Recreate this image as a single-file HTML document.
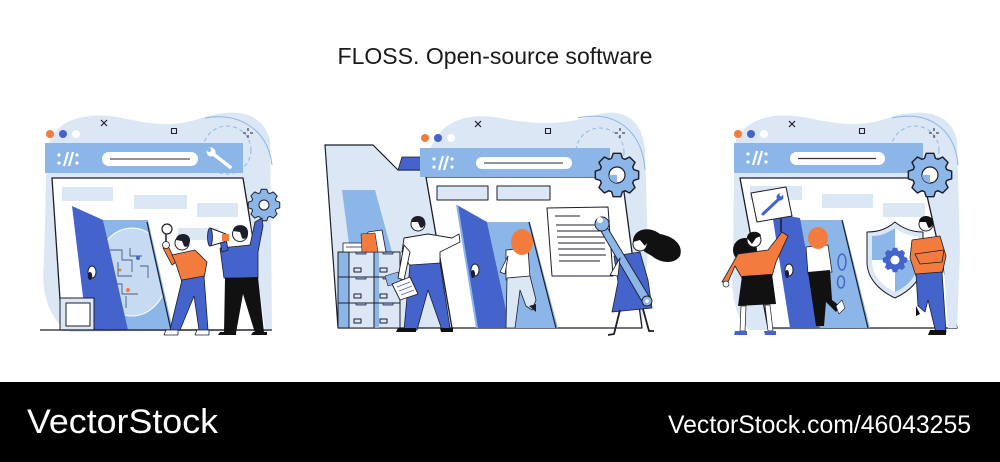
<!DOCTYPE html>
<html><head><meta charset="utf-8"><style>
html,body{margin:0;padding:0;background:#fff;width:1000px;height:462px;overflow:hidden}
svg{display:block}
</style></head><body>
<svg width="1000" height="462" viewBox="0 0 1000 462" xmlns="http://www.w3.org/2000/svg">
<defs>
<path id="gear" d="M15.22,-4.94 L19.70,-3.47 L19.70,3.47 L15.22,4.94 L14.26,7.26 L16.38,11.47 L11.47,16.38 L7.26,14.26 L4.94,15.22 L3.47,19.70 L-3.47,19.70 L-4.94,15.22 L-7.26,14.26 L-11.47,16.38 L-16.38,11.47 L-14.26,7.26 L-15.22,4.94 L-19.70,3.47 L-19.70,-3.47 L-15.22,-4.94 L-14.26,-7.26 L-16.38,-11.47 L-11.47,-16.38 L-7.26,-14.26 L-4.94,-15.22 L-3.47,-19.70 L3.47,-19.70 L4.94,-15.22 L7.26,-14.26 L11.47,-16.38 L16.38,-11.47 L14.26,-7.26 Z"/>
<g id="slashes">
<circle cx="0" cy="-4" r="1.6" fill="#fff"/><circle cx="0" cy="4" r="1.6" fill="#fff"/>
<line x1="5" y1="7" x2="9" y2="-7" stroke="#fff" stroke-width="2.2"/>
<line x1="10" y1="7" x2="14" y2="-7" stroke="#fff" stroke-width="2.2"/>
<circle cx="18" cy="-4" r="1.6" fill="#fff"/><circle cx="18" cy="4" r="1.6" fill="#fff"/>
</g>
</defs>

<rect width="1000" height="462" fill="#fff"/>

<text x="495" y="64" text-anchor="middle" font-family="Liberation Sans, Arial, sans-serif" font-size="23" fill="#1a1a1a" textLength="315" lengthAdjust="spacingAndGlyphs">FLOSS. Open-source software</text>

<!-- ============ PANEL 1 ============ -->
<g stroke-linejoin="round">
<path d="M50,140 C62,116 92,112 122,118 C152,124 172,128 202,118 C232,108 262,110 270,140 L272,330 L70,332 C50,322 40,292 44,262 L46,178 Z" fill="#dce7f5"/>
<circle cx="227" cy="150" r="24" fill="none" stroke="#8cb6e8" stroke-width="1" stroke-dasharray="4,3"/>
<path d="M205,118 C240,112 268,130 272,165" fill="none" stroke="#8cb6e8" stroke-width="1"/>
<circle cx="50" cy="134" r="4" fill="#f47b3e"/>
<circle cx="63" cy="134" r="4" fill="#4564cb"/>
<circle cx="76" cy="134" r="4" fill="#fff"/>
<path d="M101,120 L107,126 M107,120 L101,126" stroke="#1d1d2b" stroke-width="1.2"/>
<rect x="171.5" y="128.5" width="5" height="5" fill="none" stroke="#1d1d2b" stroke-width="1.1"/>
<path d="M248,128 V131 M248,135 V138 M243,133 H246 M250,133 H253" stroke="#1d1d2b" stroke-width="1"/>

<polygon points="52,178 243,178 268,330 62,330" fill="#fff" stroke="#1d1d2b" stroke-width="1.3"/>
<rect x="45" y="143" width="198" height="30" fill="#8cb6e8"/>
<use href="#slashes" transform="translate(59,159)"/>
<rect x="102" y="152" width="96" height="14" rx="7" fill="#fff"/>
<line x1="110" y1="159" x2="190" y2="159" stroke="#555" stroke-width="1.2"/>
<g stroke="#fff" stroke-width="3.5" stroke-linecap="round"><line x1="212" y1="153" x2="230" y2="167"/></g>
<circle cx="211" cy="152" r="4.5" fill="#fff"/><circle cx="209" cy="150" r="2" fill="#8cb6e8"/>

<rect x="62" y="187" width="51" height="14" fill="#dce7f5"/>
<rect x="134" y="195" width="53" height="14" fill="#dce7f5"/>
<rect x="197" y="203" width="41" height="14" fill="#dce7f5"/>
<rect x="178" y="228" width="40" height="12" fill="#dce7f5"/>
<polygon points="248,200 262,200 272,330 265,330" fill="#dce7f5"/>

<polygon points="103,220 148,220 173,330 127,330" fill="#8cb6e8"/>
<line x1="147" y1="222" x2="171" y2="330" stroke="#1d1d2b" stroke-width="1.2"/>
<clipPath id="op1"><polygon points="103,222 146,222 170,330 127,330"/></clipPath>
<g clip-path="url(#op1)">
<ellipse cx="132" cy="272" rx="36" ry="44" fill="#c6daf2" stroke="#fff" stroke-width="1"/>
<path d="M110,250 h12 v10 h10 v12 M118,262 v14 h14 M112,284 h10 v10 h16 M130,248 v8 h12 M140,266 h8 v12 M126,296 v12" fill="none" stroke="#4a5a80" stroke-width="0.9"/>
<circle cx="138" cy="258" r="2" fill="#4564cb"/><circle cx="128" cy="290" r="2" fill="#f47b3e"/><circle cx="120" cy="270" r="1.5" fill="#f47b3e"/>
</g>
<polygon points="72,206 103,220 128,330 87,330" fill="#4564cb"/>
<ellipse cx="92" cy="272" rx="4" ry="6" fill="#fff" stroke="#1d1d2b" stroke-width="1"/>
<ellipse cx="90" cy="276" rx="2.2" ry="4" fill="#1d1d2b"/>
<rect x="60" y="298" width="34" height="32" fill="#dce7f5" stroke="#1d1d2b" stroke-width="1"/>
<rect x="66" y="303" width="24" height="23" fill="#fff" stroke="#1d1d2b" stroke-width="1"/>
<line x1="40" y1="330" x2="272" y2="330" stroke="#1d1d2b" stroke-width="1.3"/>

<!-- person orange -->
<circle cx="167" cy="229" r="5" fill="#fff" stroke="#1d1d2b" stroke-width="1.2"/>
<line x1="166" y1="234" x2="166" y2="242" stroke="#1d1d2b" stroke-width="1.5"/>
<path d="M168,246 L176,262 L172,265 L163,248 Z" fill="#f47b3e" stroke="#1d1d2b" stroke-width="0.8"/>
<circle cx="166" cy="245" r="3.5" fill="#fff" stroke="#1d1d2b" stroke-width="0.8"/>
<path d="M172,255 L195,250 L207,262 L204,278 L182,282 L176,264 Z" fill="#f47b3e" stroke="#1d1d2b" stroke-width="0.8"/>
<circle cx="182" cy="243" r="7" fill="#fff" stroke="#1d1d2b" stroke-width="1"/>
<path d="M176,240 C176,232 190,232 190,240 C190,246 186,248 184,246 L182,241 Z" fill="#1d1d2b"/>
<path d="M182,280 L204,276 L208,330 L199,330 L194,296 L180,330 L170,330 Z" fill="#4564cb" stroke="#1d1d2b" stroke-width="0.8"/>
<path d="M166,330 h12 v5 h-14 Z M197,330 h12 v5 h-14 Z" fill="#fff" stroke="#1d1d2b" stroke-width="0.8"/>

<!-- person blue -->
<use href="#gear" transform="translate(264,205) scale(0.8)" fill="#8cb6e8" stroke="#1d1d2b" stroke-width="1.2" vector-effect="non-scaling-stroke"/>
<circle cx="264" cy="205" r="5" fill="#fff" stroke="#1d1d2b" stroke-width="1"/>
<path d="M220,248 L250,245 L255,222 L262,218 L263,226 L258,252 L258,278 L224,278 Z" fill="#4564cb" stroke="#1d1d2b" stroke-width="0.8"/>
<path d="M222,252 L220,240 L226,238 L228,250 Z" fill="#4564cb" stroke="#1d1d2b" stroke-width="0.8"/>
<path d="M210,228 L226,234 L224,242 L210,246 Z" fill="#fff" stroke="#1d1d2b" stroke-width="1"/>
<ellipse cx="210" cy="237" rx="2.5" ry="9" fill="#4564cb" stroke="#1d1d2b" stroke-width="0.8"/>
<rect x="222" y="234" width="7" height="7" fill="#f47b3e"/>
<circle cx="240" cy="234" r="7.5" fill="#fff" stroke="#1d1d2b" stroke-width="1"/>
<path d="M233,231 C233,223 248,223 248,232 C248,238 244,240 242,238 L240,232 Z" fill="#1d1d2b"/>
<path d="M225,278 L258,277 L264,333 L255,333 L243,294 L236,333 L224,333 Z" fill="#111"/>
<path d="M220,332 h16 v3 h-18 Z M253,332 h14 v3 h-16 Z" fill="#111"/>
</g>

<!-- ============ PANEL 2 ============ -->
<g stroke-linejoin="round">
<path d="M430,150 C440,120 470,112 500,118 C530,124 560,126 592,116 C622,106 642,118 645,150 L648,250 L642,328 L430,328 Z" fill="#dce7f5"/>
<circle cx="600" cy="152" r="24" fill="none" stroke="#8cb6e8" stroke-width="1" stroke-dasharray="4,3"/>
<path d="M578,118 C615,110 642,130 645,170" fill="none" stroke="#8cb6e8" stroke-width="1"/>
<circle cx="425" cy="138" r="4" fill="#f47b3e"/>
<circle cx="438" cy="138" r="4" fill="#4564cb"/>
<circle cx="451" cy="138" r="4" fill="#fff"/>
<path d="M475,121 L481,127 M481,121 L475,127" stroke="#1d1d2b" stroke-width="1.2"/>
<rect x="545.5" y="128.5" width="5" height="5" fill="none" stroke="#1d1d2b" stroke-width="1.1"/>
<path d="M620,128 V131 M620,135 V138 M615,133 H618 M622,133 H625" stroke="#1d1d2b" stroke-width="1"/>

<!-- folder -->
<path d="M325,145 L373,145 L398,170 L440,170 L452,328 L338,328 Z" fill="#dce7f5" stroke="#1d1d2b" stroke-width="1.2"/>
<polygon points="402,157 422,157 424,170 398,170" fill="#4564cb" stroke="#1d1d2b" stroke-width="0.8"/>
<polygon points="342,190 375,190 392,252 350,252" fill="#8cb6e8"/>

<polygon points="426,177 622,177 642,328 452,328" fill="#fff" stroke="#1d1d2b" stroke-width="1.3"/>
<rect x="420" y="148" width="190" height="29" fill="#8cb6e8"/>
<use href="#slashes" transform="translate(434,163)"/>
<rect x="476" y="157" width="96" height="12" rx="6" fill="#fff"/>
<line x1="484" y1="163" x2="563" y2="163" stroke="#555" stroke-width="1.2"/>

<rect x="437" y="186" width="51" height="14" fill="#dce7f5" stroke="#1d1d2b" stroke-width="1"/>
<rect x="497" y="186" width="53" height="14" fill="#dce7f5" stroke="#1d1d2b" stroke-width="1"/>
<polygon points="547,208 608,207 613,276 552,276" fill="#fff" stroke="#1d1d2b" stroke-width="1"/>
<g stroke="#1d1d2b" stroke-width="1.1">
<line x1="555" y1="216" x2="580" y2="216"/>
<line x1="556" y1="225" x2="603" y2="225"/>
<line x1="557" y1="231" x2="604" y2="231"/>
<line x1="557" y1="237" x2="604" y2="237"/>
<line x1="558" y1="243" x2="605" y2="243"/>
<line x1="558" y1="249" x2="605" y2="249"/>
<line x1="559" y1="255" x2="606" y2="255"/>
<line x1="559" y1="261" x2="600" y2="261"/>
</g>
<use href="#gear" transform="translate(617,175) scale(1.1)" fill="#8cb6e8" stroke="#1d1d2b" stroke-width="1.3" vector-effect="non-scaling-stroke"/>
<circle cx="617" cy="175" r="8" fill="#fff" stroke="#1d1d2b" stroke-width="1.2"/>
<path d="M617,175 L617,183 A8,8 0 0,1 609,175 Z" fill="#8cb6e8"/>

<polygon points="487,222 530,222 558,328 510,328" fill="#8cb6e8"/>
<line x1="529" y1="222" x2="556" y2="328" stroke="#1d1d2b" stroke-width="1.2"/>
<polygon points="457,205 487,222 510,328 477,328" fill="#4564cb"/>
<line x1="457" y1="205" x2="477" y2="328" stroke="#8cb6e8" stroke-width="2"/>
<ellipse cx="475" cy="270" rx="4" ry="6" fill="#fff" stroke="#1d1d2b" stroke-width="1"/>
<ellipse cx="473" cy="274" rx="2" ry="4" fill="#1d1d2b"/>

<!-- woman in door -->
<path d="M506,250 L528,248 L530,278 L506,280 Z" fill="#fff" stroke="#1d1d2b" stroke-width="0.8"/>
<path d="M508,256 L500,272 L505,274 Z" fill="#fff" stroke="#1d1d2b" stroke-width="0.8"/>
<path d="M507,278 L530,276 L536,300 L532,310 L526,306 L520,290 L515,328 L506,328 Z" fill="#dce7f5" stroke="#1d1d2b" stroke-width="0.8"/>
<path d="M529,306 L536,304 L536,312 Z" fill="#1d1d2b"/>
<ellipse cx="522" cy="242" rx="11" ry="13" fill="#f47b3e"/>
<path d="M518,252 C526,256 534,250 530,240" fill="#f47b3e"/>

<!-- cabinet -->
<rect x="338" y="252" width="62" height="76" fill="#dce7f5" stroke="#1d1d2b" stroke-width="1"/>
<rect x="338" y="252" width="11" height="76" fill="#8cb6e8" stroke="#1d1d2b" stroke-width="1"/>
<rect x="374" y="252" width="5" height="76" fill="#8cb6e8"/>
<g stroke="#1d1d2b" stroke-width="1" fill="none">
<line x1="338" y1="277" x2="400" y2="277"/><line x1="338" y1="303" x2="400" y2="303"/>
<line x1="349" y1="252" x2="349" y2="328"/><line x1="374" y1="252" x2="374" y2="328"/>
<rect x="354" y="268" width="7" height="4"/><rect x="380" y="268" width="7" height="4"/>
<rect x="354" y="294" width="7" height="4"/><rect x="380" y="294" width="7" height="4"/>
<rect x="354" y="319" width="7" height="4"/><rect x="380" y="319" width="7" height="4"/>
</g>
<g fill="#8cb6e8" stroke="#1d1d2b" stroke-width="0.7">
<path d="M356,252 h10 v2 h-10 Z M383,252 h10 v2 h-10 Z M356,277 h10 v2 h-10 Z M383,277 h10 v2 h-10 Z M356,303 h10 v2 h-10 Z M383,303 h10 v2 h-10 Z"/>
</g>
<rect x="343" y="243" width="30" height="9" fill="#fff" stroke="#1d1d2b" stroke-width="0.8"/>
<line x1="346" y1="247" x2="368" y2="247" stroke="#1d1d2b" stroke-width="0.7"/>
<polygon points="368,232 382,230 386,252 362,252" fill="#fff" stroke="#1d1d2b" stroke-width="0.8"/>
<polygon points="361,234 375,233 378,252 362,252" fill="#f47b3e" stroke="#1d1d2b" stroke-width="0.6"/>
<polygon points="385,276 398,272 402,282 388,286" fill="#8cb6e8" stroke="#1d1d2b" stroke-width="0.6"/>

<!-- man white shirt -->
<path d="M404,238 L428,234 L452,238 L459,234 L460,242 L440,252 L440,264 L410,266 L402,252 Z" fill="#fff" stroke="#1d1d2b" stroke-width="0.9"/>
<path d="M404,245 L398,278 L404,280 L410,252 Z" fill="#fff" stroke="#1d1d2b" stroke-width="0.9"/>
<circle cx="418" cy="224" r="7" fill="#fff" stroke="#1d1d2b" stroke-width="1"/>
<path d="M411,222 C411,214 425,214 425,222 C425,227 421,229 420,227 L418,222 Z" fill="#1d1d2b"/>
<path d="M410,265 L440,263 L450,328 L442,330 L428,290 L417,330 L404,330 Z" fill="#4564cb" stroke="#1d1d2b" stroke-width="0.8"/>
<path d="M398,328 h18 v4 h-20 Z M440,328 h13 v4 h-12 Z" fill="#111"/>
<polygon points="392,284 410,277 418,294 400,300" fill="#fff" stroke="#1d1d2b" stroke-width="0.9"/>
<g stroke="#4564cb" stroke-width="0.8"><line x1="397" y1="287" x2="410" y2="282"/><line x1="399" y1="291" x2="412" y2="286"/><line x1="401" y1="295" x2="414" y2="290"/></g>

<!-- woman with wrench -->
<path d="M633,240 C635,228 650,226 660,234 C672,236 684,244 680,256 C674,265 660,263 652,256 L645,252 Z" fill="#111"/>
<path d="M614,256 L640,252 L648,280 L652,308 L612,312 L618,282 Z" fill="#4564cb" stroke="#1d1d2b" stroke-width="0.8"/>
<path d="M598,226 L604,222 L650,298 L644,305 Z" fill="#8cb6e8" stroke="#1d1d2b" stroke-width="0.9"/>
<circle cx="602" cy="224" r="7" fill="#8cb6e8" stroke="#1d1d2b" stroke-width="0.9"/>
<circle cx="600" cy="220" r="3" fill="#fff"/>
<circle cx="647" cy="301" r="5" fill="#8cb6e8" stroke="#1d1d2b" stroke-width="0.9"/>
<circle cx="647" cy="301" r="1.8" fill="#fff"/>
<circle cx="640" cy="244" r="7" fill="#fff" stroke="#1d1d2b" stroke-width="1"/>
<path d="M633,242 C633,234 646,232 648,240 L645,246 L640,240 Z" fill="#111"/>
<path d="M620,310 L614,334 L608,335 M643,309 L649,331 L654,331" fill="none" stroke="#1d1d2b" stroke-width="1.8"/>
<path d="M620,258 L610,275 L618,276 Z" fill="#fff" stroke="#1d1d2b" stroke-width="0.8"/>
</g>

<!-- ============ PANEL 3 ============ -->
<g stroke-linejoin="round">
<path d="M736,140 C748,116 778,112 808,118 C838,124 858,128 888,118 C918,108 950,110 957,140 L960,250 L957,328 L750,330 C735,320 730,290 733,262 L734,178 Z" fill="#dce7f5"/>
<circle cx="915" cy="150" r="24" fill="none" stroke="#8cb6e8" stroke-width="1" stroke-dasharray="4,3"/>
<path d="M892,118 C930,110 955,130 958,165" fill="none" stroke="#8cb6e8" stroke-width="1"/>
<circle cx="738" cy="134" r="4" fill="#f47b3e"/>
<circle cx="751" cy="134" r="4" fill="#4564cb"/>
<circle cx="764" cy="134" r="4" fill="#fff"/>
<path d="M789,121 L795,127 M795,121 L789,127" stroke="#1d1d2b" stroke-width="1.2"/>
<rect x="859.5" y="128.5" width="5" height="5" fill="none" stroke="#1d1d2b" stroke-width="1.1"/>
<path d="M934,128 V131 M934,135 V138 M929,133 H932 M936,133 H939" stroke="#1d1d2b" stroke-width="1"/>

<polygon points="740,178 923,178 957,328 768,328" fill="#fff" stroke="#1d1d2b" stroke-width="1.3"/>
<rect x="734" y="143" width="189" height="30" fill="#8cb6e8"/>
<use href="#slashes" transform="translate(748,158)"/>
<rect x="790" y="152" width="95" height="13" rx="6.5" fill="#fff"/>
<line x1="798" y1="158.5" x2="876" y2="158.5" stroke="#333" stroke-width="1.2"/>
<use href="#gear" transform="translate(930,175) scale(1.1)" fill="#8cb6e8" stroke="#1d1d2b" stroke-width="1.3" vector-effect="non-scaling-stroke"/>
<circle cx="930" cy="175" r="8" fill="#fff" stroke="#1d1d2b" stroke-width="1.2"/>
<path d="M930,175 L930,183 A8,8 0 0,1 922,175 Z" fill="#8cb6e8"/>

<rect x="750" y="186" width="52" height="14" fill="#dce7f5"/>
<rect x="822" y="194" width="51" height="14" fill="#dce7f5"/>
<rect x="883" y="203" width="42" height="14" fill="#dce7f5"/>
<polygon points="942,240 950,240 957,328 948,328" fill="#dce7f5"/>

<polygon points="800,220 843,220 870,328 820,328" fill="#8cb6e8"/>
<line x1="842" y1="220" x2="868" y2="328" stroke="#1d1d2b" stroke-width="1.2"/>
<polygon points="772,213 800,218 820,328 790,328" fill="#4564cb"/>
<ellipse cx="789" cy="270" rx="4" ry="6" fill="#fff" stroke="#1d1d2b" stroke-width="1"/>
<ellipse cx="787" cy="274" rx="2" ry="4" fill="#1d1d2b"/>
<ellipse cx="842" cy="262" rx="4" ry="8" fill="none" stroke="#4564cb" stroke-width="1.5"/>
<ellipse cx="841" cy="282" rx="3.5" ry="6" fill="none" stroke="#4564cb" stroke-width="1.5"/>

<!-- shield -->
<path d="M867,232 C880,232 888,228 895,222 C902,228 912,232 923,232 L923,262 C923,280 908,292 895,298 C882,292 867,280 867,262 Z" fill="#dce7f5" stroke="#1d1d2b" stroke-width="1"/>
<path d="M872,236 C882,236 889,232 895,228 C901,232 909,236 918,236 L918,262 C918,277 906,287 895,292 C884,287 872,277 872,262 Z" fill="#8cb6e8"/>
<path d="M895,228 C901,232 909,236 918,236 L918,260 L895,260 Z M872,260 L895,260 L895,292 C884,287 872,277 872,262 Z" fill="#fff"/>
<use href="#gear" transform="translate(895,260) scale(0.62)" fill="#4564cb"/>
<circle cx="895" cy="260" r="4.5" fill="#fff"/>

<!-- man arms crossed -->
<path d="M912,240 L940,236 L946,256 L942,274 L916,276 L910,258 Z" fill="#f47b3e" stroke="#1d1d2b" stroke-width="0.8"/>
<path d="M915,254 L944,250 L942,262 L920,264 Z" fill="#f47b3e" stroke="#1d1d2b" stroke-width="0.8"/>
<circle cx="926" cy="224" r="7" fill="#fff" stroke="#1d1d2b" stroke-width="1"/>
<path d="M919,222 C919,214 933,214 933,222 C933,227 929,229 928,227 L926,222 Z" fill="#111"/>
<path d="M916,274 L942,272 L946,332 L936,333 L928,300 L925,312 L918,306 Z" fill="#4564cb" stroke="#1d1d2b" stroke-width="0.8"/>
<path d="M930,330 h16 v5 h-18 Z M916,306 l4,8 l-4,2 Z" fill="#111"/>

<!-- woman in door -->
<path d="M806,247 L828,245 L832,272 L808,274 Z" fill="#fff" stroke="#1d1d2b" stroke-width="0.8"/>
<path d="M808,272 L830,270 L832,300 L840,306 L836,312 L826,302 L824,326 L816,326 Z" fill="#111"/>
<path d="M836,306 L842,300 L845,308 L839,314 Z" fill="#fff" stroke="#1d1d2b" stroke-width="0.6"/>
<ellipse cx="818" cy="238" rx="10" ry="11" fill="#f47b3e"/>

<!-- woman with sign -->
<line x1="781" y1="218" x2="781" y2="232" stroke="#1d1d2b" stroke-width="1.5"/>
<polygon points="751,193 786,187 792,216 757,222" fill="#fff" stroke="#1d1d2b" stroke-width="1"/>
<path d="M763,214 L780,198" stroke="#4564cb" stroke-width="3" stroke-linecap="round"/>
<circle cx="780" cy="197" r="3.5" fill="#4564cb"/><circle cx="781" cy="195" r="1.4" fill="#fff"/>
<ellipse cx="745" cy="250" rx="12" ry="12" fill="#111"/>
<path d="M738,254 L768,250 L782,232 L788,236 L776,262 L772,276 L742,278 L735,266 L728,282 L722,282 Z" fill="#f47b3e" stroke="#1d1d2b" stroke-width="0.8"/>
<circle cx="754" cy="240" r="7" fill="#fff" stroke="#1d1d2b" stroke-width="1"/>
<path d="M747,238 C747,230 760,230 761,236 L756,238 L752,244 Z" fill="#111"/>
<path d="M742,276 L772,274 L776,304 L738,306 Z" fill="#111"/>
<path d="M741,306 L746,306 L745,331 L740,331 Z M765,305 L770,305 L773,331 L768,331 Z" fill="#fff" stroke="#1d1d2b" stroke-width="0.7"/>
<path d="M735,331 h12 v4 h-13 Z M764,331 h12 v4 h-11 Z" fill="#4564cb"/>
<circle cx="726" cy="284" r="3" fill="#fff" stroke="#1d1d2b" stroke-width="0.7"/>
</g>

<!-- ============ FOOTER ============ -->
<rect x="0" y="382" width="1000" height="80" fill="#000"/>
<text x="27" y="433" font-family="Liberation Sans, Arial, sans-serif" font-size="34" fill="#fff" textLength="191" lengthAdjust="spacingAndGlyphs">VectorStock</text>
<text x="668" y="433" font-family="Liberation Sans, Arial, sans-serif" font-size="25" fill="#fff" textLength="303" lengthAdjust="spacingAndGlyphs">VectorStock.com/46043255</text>
</svg>
</body></html>
